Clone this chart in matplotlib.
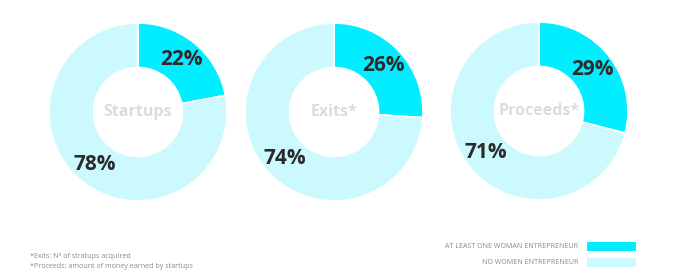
import matplotlib.pyplot as plt
from matplotlib.patches import Rectangle

# データ
titles = ["Startups", "Exits*", "Proceeds*"]
women = [22, 26, 29]
no_women = [78, 74, 71]
legend_labels = ["AT LEAST ONE WOMAN ENTREPRENEUR", "NO WOMEN ENTREPRENEUR"]
notes = ["*Exits: Nº of stratups acquired",
         "*Proceeds: amount of money earned by startups"]

colors = ["#00EEFF", "#CCF9FE"]
W, H = 688, 280

fig = plt.figure(figsize=(W / 100, H / 100), dpi=100)
ax = fig.add_axes([0, 0, 1, 1])

centers = [(138, H - 112), (334, H - 112), (539, H - 111)]
radius = 89

for (cx, cy), t, a, b in zip(centers, titles, women, no_women):
    wedges, _, pcts = ax.pie(
        [a, b], colors=colors, center=(cx, cy), radius=radius,
        startangle=90, counterclock=False,
        wedgeprops=dict(width=radius * 0.5, edgecolor="white", linewidth=1.2),
        autopct="%d%%", pctdistance=0.76, frame=True,
        textprops=dict(fontsize=15, fontweight="bold", color="#2b2b2b",
                       family="Open Sans"))
    ax.text(cx, cy, t, ha="center", va="center", fontsize=11.5,
            fontweight="bold", color="#dcdcdc", family="Open Sans")

ax.set_xlim(0, W)
ax.set_ylim(0, H)
ax.set_aspect("equal")
ax.axis("off")

# 凡例
for i, (lab, c) in enumerate(zip(legend_labels, colors)):
    y = H - (246 + 16 * i)
    ax.text(578, y, lab, ha="right", va="center", fontsize=5.1,
            color="#8a8a8a", family="Open Sans")
    ax.add_patch(Rectangle((587, y - 4.5), 49, 9, color=c, lw=0))

# 注釈
for i, n in enumerate(notes):
    ax.text(30, H - (256 + 11 * i), n, ha="left", va="center", fontsize=5.1,
            color="#8a8a8a", family="Open Sans")

fig.savefig("out.png", dpi=100)
